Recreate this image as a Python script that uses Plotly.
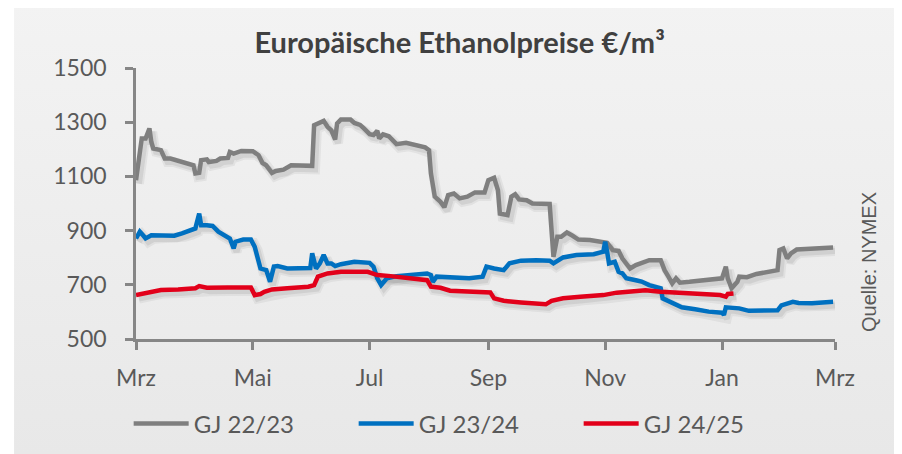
import base64
import pandas as pd
import plotly.graph_objects as go

# ---- data (day offset from 1 March, value in €/m³) ----
gj2223_days = [0, 3, 5, 7, 8, 9, 13, 15, 18, 23, 25, 30, 31, 33, 34, 37, 38, 42, 44, 48, 49, 51, 55, 61,
               64, 66, 68, 71, 73, 77, 81, 92, 93, 95, 98, 100, 102, 104, 105, 107, 112, 114, 117, 119,
               122, 124, 126, 127, 129, 132, 136, 141, 146, 151, 153, 154, 156, 159, 161, 163, 166, 169,
               173, 177, 182, 184, 187, 189, 190, 194, 196, 198, 200, 204, 207, 214, 216, 218, 220, 222,
               225, 228, 231, 237, 244, 246, 249, 252, 254, 258, 261, 265, 268, 274, 276, 278, 280, 282,
               284, 289, 298, 306, 308, 309, 311, 314, 315, 319, 324, 329, 335, 336, 338, 340, 342, 345,
               354, 364]
gj2223_vals = [1086, 1240, 1240, 1277, 1227, 1203, 1197, 1166, 1166, 1156, 1150, 1141, 1111, 1113, 1160,
               1163, 1153, 1157, 1166, 1168, 1190, 1184, 1194, 1193, 1178, 1150, 1141, 1113, 1120, 1125,
               1141, 1139, 1289, 1295, 1305, 1283, 1270, 1236, 1295, 1310, 1310, 1297, 1290, 1277, 1256,
               1253, 1268, 1240, 1255, 1248, 1219, 1224, 1215, 1207, 1197, 1111, 1025, 1006, 986, 1031,
               1037, 1019, 1025, 1041, 1041, 1086, 1095, 1049, 963, 957, 1025, 1034, 1015, 1012, 1000,
               1000, 998, 803, 877, 877, 893, 881, 867, 865, 859, 855, 828, 825, 797, 760, 773, 785, 791,
               791, 754, 730, 705, 724, 708, 711, 717, 724, 767, 724, 687, 711, 730, 728, 740, 748, 754,
               828, 834, 797, 816, 830, 834, 838]

gj2324_days = [0, 2, 4, 5, 8, 13, 20, 24, 28, 31, 33, 34, 37, 40, 43, 46, 49, 51, 52, 56, 60, 62, 64, 65,
               68, 70, 72, 74, 79, 86, 91, 92, 94, 96, 98, 100, 102, 104, 107, 114, 122, 124, 126, 128,
               131, 136, 141, 152, 154, 155, 157, 168, 174, 181, 183, 187, 192, 195, 201, 209, 216, 218,
               223, 230, 239, 244, 245, 246, 247, 250, 252, 254, 256, 261, 264, 268, 274, 275, 277, 280,
               285, 292, 299, 306, 307, 308, 311, 315, 320, 329, 335, 337, 343, 346, 353, 364]
gj2324_vals = [871, 896, 880, 871, 883, 883, 881, 890, 898, 908, 963, 920, 920, 917, 896, 883, 871, 834,
               859, 867, 867, 840, 791, 760, 754, 711, 767, 769, 760, 762, 762, 816, 760, 779, 810, 779,
               779, 769, 776, 785, 781, 767, 724, 699, 724, 732, 736, 742, 736, 711, 730, 727, 724, 730,
               767, 760, 754, 779, 789, 791, 789, 779, 801, 810, 813, 822, 859, 822, 779, 785, 748, 742,
               724, 717, 712, 699, 687, 650, 644, 632, 617, 610, 601, 597, 589, 617, 617, 613, 604, 604,
               606, 624, 637, 633, 632, 637]

gj2425_days = [0, 3, 6, 13, 22, 31, 33, 37, 48, 60, 62, 65, 67, 71, 79, 86, 90, 93, 95, 100, 107, 121,
               126, 133, 141, 152, 154, 159, 164, 173, 185, 187, 192, 201, 209, 214, 217, 223, 232, 244,
               251, 262, 266, 274, 284, 295, 305, 308, 309, 312]
gj2425_vals = [662, 666, 674, 681, 683, 687, 695, 689, 690, 690, 662, 666, 674, 683, 687, 690, 693, 699,
               730, 742, 748, 748, 736, 732, 724, 717, 693, 689, 678, 674, 672, 650, 641, 635, 632, 628,
               641, 650, 656, 662, 671, 678, 680, 674, 671, 668, 662, 656, 666, 668]

series_names = ["GJ 22/23", "GJ 23/24", "GJ 24/25"]
series_colors = ["#7f7f7f", "#0070c0", "#e2001a"]
month_labels = ["Mrz", "Mai", "Jul", "Sep", "Nov", "Jan", "Mrz"]
y_ticks = [500, 700, 900, 1100, 1300, 1500]

title_text = "Europäische Ethanolpreise €/m³"
source_text = "Quelle: NYMEX"

base = pd.Timestamp("2022-03-01")
end = pd.Timestamp("2023-03-01")
month_ticks = pd.date_range(base, end, freq="2MS")


def to_dates(days, shift=0.0):
    return [base + pd.Timedelta(days=d + shift) for d in days]


fig = go.Figure()
series = [(gj2223_days, gj2223_vals), (gj2324_days, gj2324_vals), (gj2425_days, gj2425_vals)]

# soft drop shadows
for days, vals in series:
    for w, a in [(10, 0.05), (6, 0.07)]:
        fig.add_trace(go.Scatter(
            x=to_dates(days, 1.5), y=[v - 13 for v in vals], mode="lines",
            line=dict(color=f"rgba(0,0,0,{a})", width=w, shape="linear"),
            hoverinfo="skip", showlegend=False))

for (days, vals), name, col in zip(series, series_names, series_colors):
    fig.add_trace(go.Scatter(
        x=to_dates(days), y=vals, mode="lines", name=name,
        line=dict(color=col, width=4.5)))

svg = ("<svg xmlns='http://www.w3.org/2000/svg' width='100' height='100' viewBox='0 0 100 100' "
       "preserveAspectRatio='none'><defs><linearGradient id='g' x1='0' y1='0' x2='0' y2='1'>"
       "<stop offset='0' stop-color='#f3f3f3'/><stop offset='1' stop-color='#e8e8e8'/>"
       "</linearGradient></defs><rect width='100' height='100' fill='url(#g)'/></svg>")
svg_uri = "data:image/svg+xml;base64," + base64.b64encode(svg.encode()).decode()

font_main = "Lato, 'Open Sans', sans-serif"
axis_col = "#868686"
text_col = "#595959"

# the page body adds an 8px offset, so the figure is 8px smaller and margins compensate
fig.update_layout(
    width=894, height=446,
    margin=dict(l=128, r=67, t=60, b=115, autoexpand=False),
    paper_bgcolor="white",
    plot_bgcolor="rgba(0,0,0,0)",
    images=[dict(source=svg_uri, xref="paper", yref="paper", x=-0.1745, y=1.25,
                 sizex=1.2646, sizey=1.68, sizing="stretch", layer="below",
                 xanchor="left", yanchor="top")],
    title=dict(text=f"<b>{title_text}</b>", x=0.463, xref="paper", xanchor="center",
               y=0.9215, yref="container", yanchor="middle",
               font=dict(family=font_main, size=29, color="#404040")),
    showlegend=True,
    legend=dict(orientation="h", x=-0.0105, xanchor="left", y=-0.313, yanchor="middle",
                font=dict(family=font_main, size=24, color=text_col),
                entrywidth=155, entrywidthmode="pixels", bgcolor="rgba(0,0,0,0)",
                itemwidth=55, tracegroupgap=0),
    annotations=[dict(text=source_text, textangle=-90, xref="paper", yref="paper",
                      x=1.0486, y=0.284, showarrow=False, xanchor="center", yanchor="middle",
                      font=dict(family="'Liberation Sans', Arial, sans-serif", size=20, color=text_col))],
)

fig.update_xaxes(
    type="date", range=[base, end], tickvals=list(month_ticks), ticktext=month_labels,
    showgrid=False, zeroline=False, showline=True, linecolor=axis_col, linewidth=2.5,
    ticks="outside", ticklen=8, tickwidth=2.5, tickcolor=axis_col,
    tickfont=dict(family=font_main, size=23, color=text_col), ticklabelstandoff=9)

fig.update_yaxes(
    range=[500, 1500], tickvals=y_ticks, showgrid=False, zeroline=False,
    showline=True, linecolor=axis_col, linewidth=2.5,
    ticks="outside", ticklen=8, tickwidth=2.5, tickcolor=axis_col,
    tickfont=dict(family=font_main, size=23, color=text_col), ticklabelstandoff=14)

fig.write_html("out.html")
